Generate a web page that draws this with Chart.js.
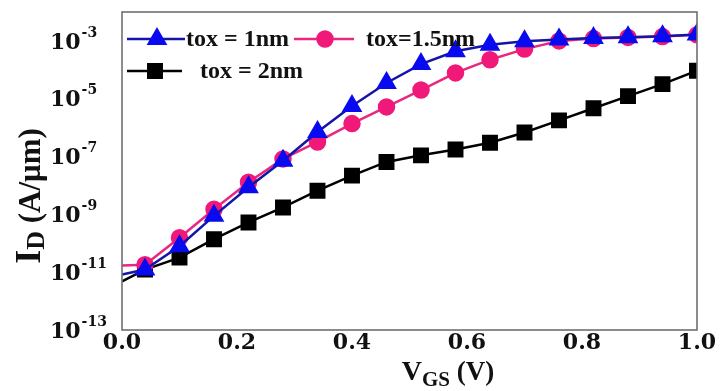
<!DOCTYPE html>
<html>
<head>
<meta charset="utf-8">
<script src="https://cdn.jsdelivr.net/npm/chart.js@4/dist/chart.umd.min.js"></script>
<style>
  html, body { margin: 0; padding: 0; background: #fff; }
</style>
</head>
<body>
<canvas id="IdVgs" width="722" height="391"></canvas>
<script>
// gate voltage (V); markers from 0.04 V every 0.06 V, line starts at 0 V
const vgs = [0, 0.04, 0.10, 0.16, 0.22, 0.28, 0.34, 0.40, 0.46, 0.52, 0.58, 0.64, 0.70, 0.76, 0.82, 0.88, 0.94, 1.00];

// drain current I_D (A/um)
const id1nm = [8.3e-12, 1.23e-11, 7.9e-11, 8.9e-10, 8.7e-9, 7.2e-8, 7.1e-7, 5.6e-6, 3.5e-5, 1.58e-4, 4.4e-4, 7.4e-4, 9.8e-4, 1.12e-3, 1.26e-3, 1.35e-3, 1.45e-3, 1.66e-3];
const id15nm = [1.7e-11, 1.82e-11, 1.55e-10, 1.51e-9, 1.29e-8, 8.3e-8, 3.2e-7, 1.38e-6, 5.2e-6, 2.0e-5, 7.8e-5, 2.24e-4, 5.2e-4, 1.0e-3, 1.2e-3, 1.32e-3, 1.41e-3, 1.62e-3];
const id2nm = [4.8e-12, 1.23e-11, 3.2e-11, 1.38e-10, 5.25e-10, 1.74e-9, 6.6e-9, 2.19e-8, 6.5e-8, 1.1e-7, 1.74e-7, 3.0e-7, 6.8e-7, 1.78e-6, 4.7e-6, 1.23e-5, 3.2e-5, 9.3e-5];

const seriesNames = ["tox = 1nm", "tox=1.5nm", "tox = 2nm"];
const xTicks = [0, 0.2, 0.4, 0.6, 0.8, 1.0];
const yTicks = [1e-13, 1e-11, 1e-9, 1e-7, 1e-5, 1e-3];

const serif = '"Liberation Serif", "Times New Roman", serif';
const tickFont = '"DejaVu Serif", serif';

const toPoints = ys => vgs.map((x, i) => ({ x: x, y: ys[i] }));
const radii = r => vgs.map((x, i) => (i === 0 ? 0 : r));

// ticks of log axis as "10" + superscript exponent
const yTickLabels = {
  id: "yTickLabels",
  afterDraw(chart) {
    const { ctx } = chart;
    const y = chart.scales.y;
    ctx.save();
    ctx.fillStyle = "#111";
    ctx.textBaseline = "middle";
    ctx.textAlign = "left";
    y.ticks.forEach(t => {
      const py = y.getPixelForValue(t.value);
      const exp = Math.round(Math.log10(t.value));
      ctx.font = "bold 22px " + tickFont;
      ctx.fillText("10", 50, py + 2);
      const w = ctx.measureText("10").width;
      ctx.font = "bold 14px " + tickFont;
      ctx.fillText("-" + Math.abs(exp), 50 + w + 1, py - 8);
    });
    ctx.restore();
  }
};

// draws text pieces with their own size / baseline shift (for subscripts)
function drawRuns(ctx, runs, cx, base) {
  let total = 0;
  runs.forEach(r => {
    ctx.font = "bold " + r.size + "px " + serif;
    r.w = ctx.measureText(r.text).width;
    total += r.w;
  });
  let x = cx - total / 2;
  ctx.textAlign = "left";
  ctx.textBaseline = "alphabetic";
  runs.forEach(r => {
    ctx.font = "bold " + r.size + "px " + serif;
    ctx.fillText(r.text, x, base + (r.dy || 0));
    x += r.w;
  });
}

const axisTitles = {
  id: "axisTitles",
  afterDraw(chart) {
    const { ctx } = chart;
    ctx.save();
    ctx.fillStyle = "#111";
    drawRuns(ctx, [
      { text: "V", size: 28 },
      { text: "GS", size: 21, dy: 6 },
      { text: " (V)", size: 27 }
    ], 448, 380);
    ctx.translate(40, 196);
    ctx.rotate(-Math.PI / 2);
    drawRuns(ctx, [
      { text: "I", size: 36 },
      { text: "D", size: 26, dy: 4 },
      { text: " (A/\u03bcm)", size: 31 }
    ], 0, 0);
    ctx.restore();
  }
};

// frame round the plot area
const frame = {
  id: "frame",
  afterDatasetsDraw(chart) {
    const { ctx, chartArea: a } = chart;
    ctx.save();
    ctx.strokeStyle = "#707070";
    ctx.lineWidth = 1.6;
    ctx.strokeRect(a.left, a.top, a.right - a.left, a.bottom - a.top);
    ctx.restore();
  }
};

// legend inside the plot, two rows, line + marker samples
const insideLegend = {
  id: "insideLegend",
  afterDraw(chart) {
    const { ctx } = chart;
    const spots = [
      { x0: 127, x1: 185, mx: 157, y: 39, tx: 186 },
      { x0: 294, x1: 354, mx: 325, y: 39, tx: 366 },
      { x0: 127, x1: 182, mx: 155, y: 71, tx: 200 }
    ];
    ctx.save();
    chart.data.datasets.forEach((ds, i) => {
      const s = spots[i];
      ctx.strokeStyle = ds.borderColor;
      ctx.lineWidth = ds.borderWidth;
      ctx.beginPath();
      ctx.moveTo(s.x0, s.y);
      ctx.lineTo(s.x1, s.y);
      ctx.stroke();
      ctx.fillStyle = ds.pointBackgroundColor;
      ctx.strokeStyle = ds.pointBorderColor;
      Chart.helpers.drawPoint(ctx, {
        pointStyle: ds.pointStyle,
        radius: ds.pointRadius[1],
        borderWidth: 1,
        rotation: 0
      }, s.mx, s.y);
      ctx.fillStyle = "#111";
      ctx.font = "bold 24px " + serif;
      ctx.textAlign = "left";
      ctx.textBaseline = "middle";
      ctx.fillText(ds.label, s.tx, s.y + 1);
    });
    ctx.restore();
  }
};

new Chart(document.getElementById("IdVgs").getContext("2d"), {
  type: "line",
  data: {
    datasets: [
      {
        label: seriesNames[0],
        data: toPoints(id1nm),
        borderColor: "#1414a8",
        borderWidth: 2.5,
        pointStyle: "triangle",
        pointRadius: radii(9.5),
        pointBackgroundColor: "#0a0af0",
        pointBorderColor: "#0a0af0",
        order: 1
      },
      {
        label: seriesNames[1],
        data: toPoints(id15nm),
        borderColor: "#e8287f",
        borderWidth: 2.5,
        pointStyle: "circle",
        pointRadius: radii(7.5),
        pointBackgroundColor: "#f0197a",
        pointBorderColor: "#f0197a",
        order: 2
      },
      {
        label: seriesNames[2],
        data: toPoints(id2nm),
        borderColor: "#000000",
        borderWidth: 2.5,
        pointStyle: "rect",
        pointRadius: radii(9.5),
        pointBackgroundColor: "#000000",
        pointBorderColor: "#000000",
        order: 3
      }
    ]
  },
  options: {
    responsive: false,
    devicePixelRatio: 1,
    animation: false,
    layout: { padding: { left: 0, right: 25, top: 12, bottom: 0 } },
    plugins: {
      legend: { display: false },
      tooltip: { enabled: false }
    },
    scales: {
      x: {
        type: "linear",
        min: 0,
        max: 1,
        afterBuildTicks: s => { s.ticks = xTicks.map(v => ({ value: v })); },
        afterFit: s => { s.height = 61; },
        grid: { display: false, drawTicks: false },
        border: { display: false },
        ticks: {
          autoSkip: false,
          maxRotation: 0,
          padding: 0,
          color: "#111",
          font: { family: tickFont, size: 22, weight: "bold" },
          callback: v => Number(v).toFixed(1)
        }
      },
      y: {
        type: "logarithmic",
        min: 1e-13,
        max: 1e-2,
        afterBuildTicks: s => { s.ticks = yTicks.map(v => ({ value: v })); },
        afterFit: s => { s.width = 122; },
        grid: { display: false, drawTicks: false },
        border: { display: false },
        ticks: { display: false }
      }
    }
  },
  plugins: [frame, yTickLabels, axisTitles, insideLegend]
});
</script>
</body>
</html>
